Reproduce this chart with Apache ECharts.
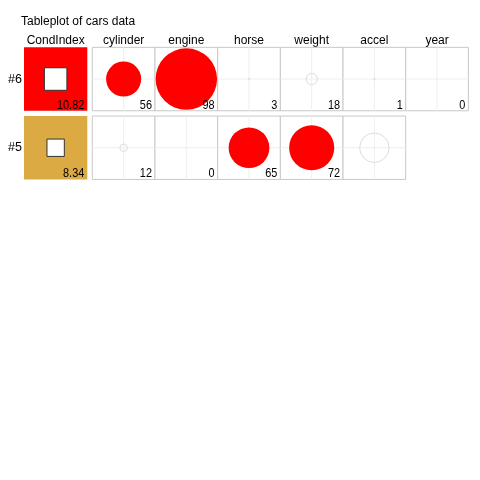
<!DOCTYPE html>
<html>
<head>
<meta charset="utf-8">
<script src="https://cdn.jsdelivr.net/npm/echarts@6/dist/echarts.min.js"></script>
<style>html,body{margin:0;padding:0;background:#fff}#c{width:480px;height:480px}</style>
</head>
<body>
<div id="c"></div>
<script>
const title = 'Tableplot of cars data';
const rows = ['#6', '#5'];
const condHeader = ['CondIndex'];
const columns = ['cylinder', 'engine', 'horse', 'weight', 'accel', 'year'];
const condIndex = [10.82, 8.34];
const condLabels = ['10.82', '8.34'];
const row6 = [56, 98, 3, 18, 1, 0];
const row5 = [12, 0, 65, 72, 47, null];
const row6Labels = ['56', '98', '3', '18', '1', '0'];
const row5Labels = ['12', '0', '65', '72', '', null];

const FONT = "'Liberation Sans', Arial, sans-serif";
const NUMFONT = "'Liberation Sans', Arial, sans-serif";

const condData = condIndex.map((v, i) => [0, i, v, condLabels[i]]);
const cellData = [];
[row6, row5].forEach((r, ri) => {
  const labs = [row6Labels, row5Labels][ri];
  r.forEach((v, ci) => { if (v !== null) cellData.push([ci, ri, v, labs[ci]]); });
});

function cellBox(api) {
  const c = api.coord([api.value(0), api.value(1)]);
  const s = api.size([1, 1]);
  const w = s[0], h = s[1] - 5.3;
  return { cx: c[0], cy: c[1], w: w, h: h, x: c[0] - w / 2, y: c[1] - h / 2 };
}

function numText(text, b) {
  const tx = b.x + b.w - 3, ty = b.y + b.h + 1;
  return { type: 'text', x: tx, y: ty, scaleX: 0.84, scaleY: 1.05,
    style: { text: text, x: 0, y: 0, align: 'right', verticalAlign: 'bottom', font: '13px ' + NUMFONT, fill: '#000' } };
}

function renderCond(params, api) {
  const b = cellBox(api);
  const v = api.value(2);
  const side = v * 2.08;
  const bg = v >= 10 ? '#ff0000' : '#dcaa42';
  return { type: 'group', children: [
    { type: 'rect', shape: { x: b.x, y: b.y, width: b.w, height: b.h }, style: { fill: bg } },
    { type: 'rect', shape: { x: b.cx - side / 2, y: b.cy - side / 2, width: side, height: side },
      style: { fill: '#fff', stroke: '#333', lineWidth: 1 } },
    numText(condLabels[params.dataIndex], b)
  ]};
}

function renderCell(params, api) {
  const b = cellBox(api);
  const v = api.value(2);
  const d = v / 100 * b.w;
  const item = cellData[params.dataIndex];
  const children = [
    { type: 'rect', shape: { x: b.x, y: b.y, width: b.w, height: b.h }, style: { fill: '#fff', stroke: '#c8c8c8', lineWidth: 1 } },
    { type: 'line', shape: { x1: b.cx, y1: b.y, x2: b.cx, y2: b.y + b.h }, style: { stroke: '#eeeeee', lineWidth: 1 } },
    { type: 'line', shape: { x1: b.x, y1: b.cy, x2: b.x + b.w, y2: b.cy }, style: { stroke: '#eeeeee', lineWidth: 1 } }
  ];
  if (v > 0) {
    if (v >= 50) {
      children.push({ type: 'circle', shape: { cx: b.cx, cy: b.cy, r: d / 2 }, style: { fill: '#ff0000' } });
    } else {
      children.push({ type: 'circle', shape: { cx: b.cx, cy: b.cy, r: Math.max(d / 2, 0.8) }, style: { fill: 'none', stroke: '#dddddd', lineWidth: 1 } });
    }
  }
  children.push(numText(item[3], b));
  return { type: 'group', children: children };
}

const chart = echarts.init(document.getElementById('c'), null, { renderer: 'canvas' });
const axisCommon = { axisLine: { show: false }, axisTick: { show: false }, splitLine: { show: false } };
chart.setOption({
  animation: false,
  title: { text: title, left: 21, top: 16, padding: 0, textStyle: { fontSize: 12, fontWeight: 'normal', color: '#000', fontFamily: FONT } },
  grid: [
    { left: 24, top: 44.7, width: 63.3, height: 137.4 },
    { left: 92.3, top: 44.7, width: 376.1, height: 137.4 }
  ],
  xAxis: [
    Object.assign({ type: 'category', gridIndex: 0, position: 'top', data: condHeader,
      axisLabel: { fontSize: 12, color: '#000', fontFamily: FONT, margin: -2 } }, axisCommon),
    Object.assign({ type: 'category', gridIndex: 1, position: 'top', data: columns,
      axisLabel: { fontSize: 12, color: '#000', fontFamily: FONT, margin: -2, interval: 0 } }, axisCommon)
  ],
  yAxis: [
    Object.assign({ type: 'category', gridIndex: 0, inverse: true, data: rows,
      axisLabel: { fontSize: 12.5, color: '#000', fontFamily: FONT, margin: 2 } }, axisCommon),
    Object.assign({ type: 'category', gridIndex: 1, inverse: true, data: rows,
      axisLabel: { show: false } }, axisCommon)
  ],
  series: [
    { type: 'custom', xAxisIndex: 0, yAxisIndex: 0, data: condData, renderItem: renderCond },
    { type: 'custom', xAxisIndex: 1, yAxisIndex: 1, data: cellData, renderItem: renderCell }
  ]
});
</script>
</body>
</html>
